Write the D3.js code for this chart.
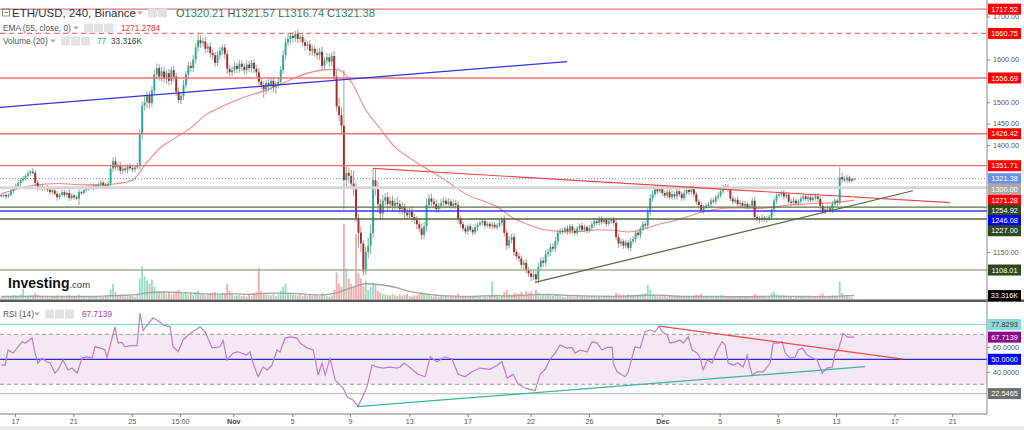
<!DOCTYPE html>
<html><head><meta charset="utf-8">
<script src="https://cdn.jsdelivr.net/npm/d3@7"></script>
<style>body{margin:0;background:#fff;}svg{display:block;font-family:Arial,"Liberation Sans",sans-serif;}</style>
</head><body><svg id="c" width="1024" height="430"></svg>
<script>
// ---- DATA (4h candles, ETH/USD Binance) ----
const firstOpen = 1283;
const closes = [1281,1283,1280,1284,1292,1298,1305,1311,1318,1322,
1328,1334,1338,1335,1312,1300,1303,1298,1302,1296,
1290,1294,1286,1278,1284,1290,1283,1288,1276,1282,
1278,1275,1290,1288,1295,1298,1302,1300,1305,1303,
1308,1312,1306,1304,1310,1345,1362,1348,1352,1340,
1345,1342,1350,1346,1343,1348,1352,1425,1492,1500,
1515,1498,1528,1565,1580,1560,1572,1555,1568,1550,
1575,1560,1525,1505,1515,1540,1565,1585,1580,1600,
1628,1645,1638,1642,1625,1630,1615,1610,1592,1610,
1620,1628,1612,1578,1570,1575,1585,1578,1590,1583,
1575,1588,1580,1592,1578,1570,1548,1540,1530,1545,
1538,1550,1535,1542,1548,1575,1610,1640,1648,1655,
1650,1660,1648,1652,1640,1632,1635,1620,1625,1615,
1610,1618,1585,1598,1605,1595,1608,1560,1490,1470,
1445,1318,1335,1328,1310,1300,1230,1195,1170,1105,
1150,1165,1194,1318,1300,1262,1240,1270,1278,1262,
1270,1258,1265,1262,1250,1256,1242,1236,1245,1232,
1225,1215,1205,1190,1210,1260,1275,1268,1262,1250,
1258,1265,1270,1262,1268,1258,1264,1260,1228,1215,
1205,1198,1210,1202,1196,1208,1214,1218,1222,1212,
1216,1210,1214,1208,1212,1218,1226,1195,1165,1178,
1185,1150,1140,1135,1120,1125,1108,1100,1092,1098,
1086,1115,1130,1125,1145,1150,1162,1158,1175,1195,
1200,1198,1205,1198,1210,1200,1195,1205,1212,1202,
1208,1200,1206,1215,1222,1218,1228,1220,1225,1216,
1222,1226,1218,1185,1170,1175,1165,1172,1160,1175,
1180,1195,1190,1205,1215,1212,1245,1275,1285,1298,
1292,1300,1288,1282,1290,1278,1285,1280,1292,1285,
1276,1288,1295,1290,1298,1285,1268,1260,1248,1255,
1258,1262,1270,1268,1278,1282,1292,1300,1304,1296,
1275,1268,1272,1262,1265,1258,1262,1255,1258,1270,
1232,1228,1225,1230,1226,1228,1232,1250,1270,1282,
1285,1288,1280,1284,1268,1265,1270,1264,1268,1275,
1280,1274,1278,1272,1276,1280,1274,1258,1245,1250,
1252,1248,1262,1270,1266,1325,1320,1318,1324,1316,
1320.21,1321.38];
// wick extents above / below the candle body (USD)
const upperWick = [3,4,5,3,6,4,5,7,4,6, 5,6,4,8,6,5,4,6,3,5, 6,4,5,7,4,6,5,4,8,5, 4,5,6,4,5,7,4,6,5,4,
5,6,4,5,6,8,10,9,7,8, 6,7,5,8,6,5,7,12,10,14, 10,12,9,11,11,9,10,12,8,10, 9,11,8,10,9,12,8,10,9,11,
10,19,12,9,11,8,10,9,8,10, 9,7,8,10,9,8,10,7,9,8, 8,10,9,7,8,9,10,8,9,7, 9,8,10,7,8,9,12,10,14,8,
9,7,10,8,11,9,8,10,9,8, 10,9,12,8,10,9,8,12,15,20, 18,130,15,12,14,30,12,10,15,8, 12,18,20,28,25,15,12,14,10,12,
10,12,9,14,10,12,8,10,9,11, 8,10,9,12,10,15,10,12,9,11, 8,10,9,7,8,6,9,8,10,7, 6,8,5,7,6,8,5,6,7,5,
6,5,7,6,5,8,6,10,8,9, 7,8,6,9,7,6,8,7,6,9, 8,9,7,8,10,7,8,9,10,8, 6,7,5,8,6,5,7,6,5,7,
6,5,7,6,8,5,6,7,5,6, 7,5,6,8,7,6,5,7,6,8, 7,6,8,5,7,6,8,10,9,7, 8,6,7,5,6,7,8,6,5,7,
6,7,5,8,6,7,5,6,8,5, 6,5,7,6,5,8,6,7,5,6, 7,6,5,8,6,5,7,6,5,6, 8,5,6,7,5,6,5,7,6,5,
6,5,7,6,5,6,8,5,6,7, 5,6,7,5,6,5,7,6,8,5, 6,5,7,6,5,23,10,8,6,5, 3,0.19];
const lowerWick = [4,3,6,4,3,5,4,3,6,4, 5,4,6,3,8,6,4,5,4,6, 5,6,4,8,5,4,6,5,7,5, 6,4,15,5,4,6,5,4,6,5,
4,6,5,4,5,6,8,7,9,8, 7,6,8,5,7,6,5,8,10,12, 14,12,10,9,12,10,11,9,12,10, 9,12,10,7,9,10,8,11,9,10,
9,10,11,8,10,9,11,10,9,8, 10,9,11,12,10,9,8,10,9,11, 10,8,9,11,10,12,9,10,20,12, 14,10,12,15,10,9,8,10,9,12,
10,9,11,8,10,12,9,10,11,9, 10,12,10,9,8,11,10,9,12,15, 20,68,15,18,12,20,10,35,20,10, 8,15,20,12,18,20,15,10,12,14,
10,12,9,11,10,12,14,10,9,12, 10,12,9,10,10,12,9,10,11,9, 8,7,9,10,6,8,7,9,10,8, 7,6,8,5,7,6,8,5,6,7,
5,6,7,5,6,5,7,8,10,6, 8,9,7,8,9,10,8,9,10,8, 4,9,8,10,7,8,9,7,8,10, 6,7,5,8,6,7,5,6,8,5,
6,7,5,6,8,5,7,6,5,7, 5,7,6,8,10,7,8,6,5,8, 6,7,5,8,6,7,9,10,8,6, 7,5,8,6,7,5,6,7,8,6,
7,6,5,7,6,8,7,9,6,8, 5,6,8,5,7,6,5,7,6,5, 6,7,5,6,8,5,7,6,5,7, 5,6,7,5,6,7,5,6,8,7,
5,6,7,5,6,8,5,6,7,5, 6,5,7,6,5,6,7,8,6,7, 5,6,7,5,8,6,7,5,6,5, 5,3.47];
// volume, thousands
const volumes = [15,22,10,30,25,40,35,28,45,100, 30,25,20,35,60,40,18,22,15,30, 12,25,20,35,15,20,12,28,40,18,
22,30,45,15,20,12,25,18,30,20, 15,25,18,22,20,90,150,70,40,30, 35,25,40,30,28,20,45,200,320,220,
180,150,190,120,80,70,60,75,50,65, 45,55,80,90,60,50,70,45,60,40, 65,80,45,50,35,40,55,60,70,45,
40,60,50,150,80,45,30,35,40,28, 35,25,40,30,45,70,310,80,60,45, 40,35,50,30,45,80,120,150,60,50,
45,40,35,50,30,40,35,45,30,40, 35,30,60,40,30,25,35,90,260,150, 120,740,300,200,150,120,640,250,200,130,
180,90,120,160,140,80,60,50,45,40, 35,50,40,30,45,35,40,55,30,25, 40,35,45,70,60,50,40,30,25,35,
20,25,18,22,15,20,25,30,55,30, 25,20,15,28,22,18,25,20,15,22, 18,30,173,40,25,20,30,70,90,45,
40,60,55,50,70,45,80,60,75,50, 90,65,50,40,45,55,35,30,40,45, 30,25,20,35,28,22,18,30,25,20,
22,18,25,30,35,20,28,15,25,20, 18,22,20,60,50,35,40,30,45,35, 30,40,35,45,50,55,140,90,50,40,
35,30,25,40,20,30,25,22,35,20, 18,25,30,22,28,20,40,35,50,25, 20,18,25,22,30,25,35,40,30,25,
30,22,18,25,20,15,22,25,18,30, 50,35,25,20,22,18,25,60,70,40, 25,20,18,22,30,20,15,18,22,25,
20,15,18,22,15,20,18,40,55,30, 25,20,35,30,25,170,60,35,25,20, 15,0.077];
// EMA(55) and Volume MA(20), read every 6 candles (+ last)
const emaAt = [0,6,12,18,24,30,36,42,48,54,60,66,72,78,84,90,96,102,108,114,120,126,132,138,144,150,156,162,168,174,
180,186,192,198,204,210,216,222,228,234,240,246,252,258,264,270,276,282,288,294,300,306,312,318,324,330,336,342,348,351];
const emaVals = [1287,1296,1305,1309,1310,1308,1307,1307,1310,1318,1360,1396,1418,1440,1470,1488,1503,1516,1526,1540,
1555,1568,1575,1577,1548,1482,1438,1395,1370,1348,1328,1305,1283,1270,1256,1232,1216,1204,1199,1197,
1199,1202,1201,1197,1203,1214,1222,1232,1243,1250,1253,1253,1252,1255,1260,1262,1264,1265,1269,1271.28];
const volMaVals = [25,25,27,26,24,24,25,28,35,40,60,68,65,58,50,48,50,45,55,58,55,45,40,60,110,150,140,115,75,50,
35,28,25,30,32,30,38,45,42,35,30,28,26,30,35,38,30,25,24,25,22,22,24,28,26,24,23,25,32,33.316];
// RSI(14) (candle index, value)
const rsiAt = [0,1.6,2.8,4.9,6.5,8.6,9.8,12.7,13.9,15.1,16.8,18.8,20.1,22.1,23.4,25.4,27.5,29.1,31.2,33.3,
35.3,37.4,38.6,40.7,42.7,43.5,46.8,48.1,49.7,50.9,53,55.9,57.1,58.4,60,62.5,65.3,66.6,69.5,70.7,
72.8,74.8,76.9,78.9,81.8,83.9,86.8,90,91.3,92.9,95.4,97.4,101,102.4,103.6,105.7,107.7,109.4,111.4,113.5,
114.7,116.8,118.8,121.7,123,125.9,128.3,129.1,130.4,132,133.3,135.3,137.4,140.7,142.3,144.8,146.8,148.5,150.5,152.6,
154.7,157.1,160,162.9,164.1,165.8,169,171.5,174.4,176.5,179.3,182.6,185.5,188,190.9,193.7,197,201,204,206,
208.2,210.6,212.7,215.6,217.6,219.7,221.7,223.8,225.8,227.9,229.9,232.8,234.9,236.1,238.2,241.1,243.1,245.2,247.2,249.3,
251.4,251.8,253.4,255.5,256.7,258,259.6,260.8,262.9,264.9,267,269,270.7,271.9,274,275.2,277.3,279.3,280.6,282.7,
284.3,286.3,287.6,288.8,290.5,292.5,294.6,296.6,297.9,299.1,301.2,303.2,305.3,306.9,309,311,313.5,316.4,317.6,319.7,
321.3,322.6,324.6,326.7,327.9,329.6,331.6,333.7,335.7,337.8,339.8,341.9,343.1,344.4,346.4,348.1,350.2,351];
const rsiVals = [45.4,45.4,57.4,55,59,64,62.8,67,55,47,51,47.8,47,39,41.5,49.4,41.5,43,39,51,
52,51,60,59,57.4,51,76,63,63.5,60,61,61,87,73,77.4,83,80,77.4,76,60,
56,65.4,69.4,72,76,72,59,60,65,49.4,55,56,53.4,56,47,36,44,41.5,45.4,57.4,
55.8,67,68,67,63,59,57.4,51,37.4,47,37.4,51,33.4,27,20,17.5,12.6,19,28,45.4,
43.8,43,43.8,43,43.8,47,42,38,36,52,48,52,50,38,36,40,43,42,45,48,
35,38,30,27,26,25,38,42,50,55,61.4,59,59.5,55,57.4,56,64,63,57.4,59.5,
59.5,47,40,37.4,36,40,52,60,59,72,73.4,72,76.6,72,69.4,63,64,65.4,63,68,
57.4,55,51,41.5,49.4,47,57.4,64,61.4,47,45.4,47,43.8,53.4,37.4,40,40,47,63,63,
64,55,51,51.8,57.4,59,53.4,51,49.4,39,43,43.8,55,57.4,71,67.7,67.7,67.7139];
// horizontal levels & trend lines
const priceLevels = [1717.52,1660.75,1556.69,1426.42,1351.71,1321.38,1300.00,1254.92,1246.08,1227.00,1108.01];
const priceTicks = [1150,1400,1450,1500,1600,1700];
const trendBlue = [[-0.5,1488],[232.8,1595]];
const trendRed = [[153,1345.6],[390.4,1265.3]];
const trendGreen = [[219.6,1079.3],[375.1,1293.3]];
const rsiLevels = [77.8293,22.5465];
const rsiTrendRed = [[270.8,76.6],[371,50.2]];
const rsiTrendTeal = [[146.3,12.1],[355.4,44.1]];
const rsiTicks = [40,60];
const dateTickAt = [5.67,29.66,53.69,73.56,95.49,119.76,143.5,167.9,191.9,217.8,241.8,272.0,295.6,319.5,343.5,367.5,391.3];
const dateTickLabels = ["17","21","25","15:00","Nov","5","9","13","17","22","26","Dec","5","9","13","17","21"];

// ---- STYLES ----
const levelStyle = [
 {c:"#f37272",w:1.3},{c:"#f37272",w:1.3,d:"5,4"},{c:"#f37272",w:1.3},{c:"#f37272",w:1.3},{c:"#f37272",w:1.3},
 {c:"#5b7ee6",w:1,d:"1,2"},{c:"#d6d6d6",w:3},{c:"#5e6e50",w:1.2},{c:"#3a3ae6",w:1.5},{c:"#52673d",w:1.5},{c:"#9fb08f",w:1.5}];
const levelLabelBg = ["#ff0000","#ff0000","#ff0000","#ff0000","#ff0000","#6a8fe8","#a8a8a8","#2d4a1e","#0000ff","#2d4a1e","#2d4a1e"];

const plotR = 987;
const svg = d3.select("#c");
const x = d3.scaleLinear().domain([-0.5,405.6]).range([0,plotR]);
const y = d3.scaleLinear().domain([1040.3,1738.9]).range([299,0]);
const yv = d3.scaleLinear().domain([0,33.316]).range([299,295.6]);
const yr = d3.scaleLinear().domain([30,70]).range([384.3,334.3]);

const defs = svg.append("defs");
defs.append("clipPath").attr("id","cm").append("rect").attr("x",0).attr("y",0).attr("width",plotR).attr("height",299);
defs.append("clipPath").attr("id","cr").append("rect").attr("x",0).attr("y",302).attr("width",plotR).attr("height",112);

const idx = d3.range(closes.length);
const opens = idx.map(i => i ? closes[i-1] : firstOpen);
const highs = idx.map(i => Math.max(opens[i],closes[i]) + upperWick[i]);
const lows = idx.map(i => Math.min(opens[i],closes[i]) - lowerWick[i]);
const up = i => closes[i] >= opens[i];

const gm = svg.append("g").attr("clip-path","url(#cm)");
// volume
gm.append("g").selectAll("rect").data(idx).join("rect")
  .attr("x",i=>x(i)-0.9).attr("width",1.8)
  .attr("y",i=>yv(volumes[i])).attr("height",i=>yv(0)-yv(volumes[i]))
  .attr("fill",i=>up(i)?"#93dfc2":"#f6a9a9");
const pairLine = (sx,sy)=>d3.line().x(d=>sx(d[0])).y(d=>sy(d[1]));
gm.append("path").datum(emaAt.map((a,k)=>[a,volMaVals[k]]))
  .attr("d",pairLine(x,yv).curve(d3.curveMonotoneX)).attr("fill","none").attr("stroke","#a3a3a3").attr("stroke-width",1.4);
// EMA
gm.append("path").datum(emaAt.map((a,k)=>[a,emaVals[k]]))
  .attr("d",pairLine(x,y).curve(d3.curveMonotoneX)).attr("fill","none").attr("stroke","#f58585").attr("stroke-width",1.1);
// candles
const gc = gm.append("g");
gc.selectAll("line").data(idx).join("line")
  .attr("x1",i=>x(i)).attr("x2",i=>x(i)).attr("y1",i=>y(highs[i])).attr("y2",i=>y(lows[i]))
  .attr("stroke","#8e9a8e").attr("stroke-width",0.9);
gc.selectAll("rect").data(idx).join("rect")
  .attr("x",i=>x(i)-0.95).attr("width",1.9)
  .attr("y",i=>y(Math.max(opens[i],closes[i])))
  .attr("height",i=>Math.max(1,Math.abs(y(opens[i])-y(closes[i]))))
  .attr("fill",i=>up(i)?"#1fb098":"#b3231f");
// levels
priceLevels.forEach((v,k)=>{
  const s = levelStyle[k];
  gm.append("line").attr("x1",0).attr("x2",plotR).attr("y1",y(v)).attr("y2",y(v))
    .attr("stroke",s.c).attr("stroke-width",s.w).attr("stroke-dasharray",s.d||null);
});
const seg = (g,pts,sy,c,w)=>g.append("line").attr("x1",x(pts[0][0])).attr("y1",sy(pts[0][1]))
  .attr("x2",x(pts[1][0])).attr("y2",sy(pts[1][1])).attr("stroke",c).attr("stroke-width",w);
seg(gm,trendBlue,y,"#3434e0",1.2);
seg(gm,trendRed,y,"#f04848",1.2);
seg(gm,trendGreen,y,"#4f6a3c",1.2);

// RSI pane
const gr = svg.append("g").attr("clip-path","url(#cr)");
gr.append("rect").attr("x",0).attr("width",plotR).attr("y",yr(70)).attr("height",yr(30)-yr(70)).attr("fill","#f3e8f3");
[70,30].forEach(v=>gr.append("line").attr("x1",0).attr("x2",plotR).attr("y1",yr(v)).attr("y2",yr(v))
  .attr("stroke","#9a9a9a").attr("stroke-width",1).attr("stroke-dasharray","4,3"));
gr.append("line").attr("x1",0).attr("x2",plotR).attr("y1",yr(50)).attr("y2",yr(50)).attr("stroke","#2b2bd8").attr("stroke-width",1.2);
gr.append("line").attr("x1",0).attr("x2",plotR).attr("y1",yr(rsiLevels[0])).attr("y2",yr(rsiLevels[0])).attr("stroke","#86d3c8").attr("stroke-width",1.2);
gr.append("line").attr("x1",0).attr("x2",plotR).attr("y1",yr(rsiLevels[1])).attr("y2",yr(rsiLevels[1])).attr("stroke","#c4c4c4").attr("stroke-width",1.4);
gr.append("path").datum(rsiAt.map((a,k)=>[a,rsiVals[k]])).attr("d",pairLine(x,yr))
  .attr("fill","none").attr("stroke","#c47acb").attr("stroke-width",1.2);
seg(gr,rsiTrendRed,yr,"#f04a4a",1.2);
seg(gr,rsiTrendTeal,yr,"#3fb596",1.2);

// separator & frame
svg.append("rect").attr("x",0).attr("y",299.5).attr("width",1024).attr("height",2.5).attr("fill","#5b5b5b");
svg.append("rect").attr("x",0).attr("y",426).attr("width",1024).attr("height",4).attr("fill","#e9e9e9");

// axes
const ax = svg.append("g").attr("transform",`translate(${plotR},0)`)
  .call(d3.axisRight(y).tickValues(priceTicks).tickSize(3).tickPadding(3).tickFormat(d3.format(".2f")));
ax.select(".domain").remove();
const axr = svg.append("g").attr("transform",`translate(${plotR},0)`)
  .call(d3.axisRight(yr).tickValues(rsiTicks).tickSize(3).tickPadding(3).tickFormat(d3.format(".4f")));
axr.select(".domain").remove();
const axb = svg.append("g").attr("transform","translate(0,414)")
  .call(d3.axisBottom(x).tickValues(dateTickAt).tickSize(3).tickPadding(2).tickFormat((d,i)=>dateTickLabels[i]));
axb.select(".domain").attr("d",`M0,0H${plotR}`).attr("stroke","#7a7a7a");
[ax,axr,axb].forEach(a=>{a.selectAll("text").attr("font-size",7.2).attr("fill","#555").attr("font-family","Arial, 'Liberation Sans', sans-serif");
  a.selectAll(".tick line").attr("stroke","#888");});
axb.selectAll("text").filter((d,i)=>dateTickLabels[i]==="Nov"||dateTickLabels[i]==="Dec").attr("font-weight","bold").attr("fill","#444");
svg.append("line").attr("x1",plotR).attr("x2",plotR).attr("y1",0).attr("y2",414).attr("stroke","#8a8a8a");

// right labels
function placeLabels(items){
  items.sort((a,b)=>a.y-b.y);
  for(let k=1;k<items.length;k++) if(items[k].y-items[k-1].y<10.2) items[k].y=items[k-1].y+10.2;
  items.forEach(it=>{
    svg.append("rect").attr("x",988).attr("y",it.y-5.5).attr("width",33).attr("height",11).attr("fill",it.bg);
    svg.append("text").attr("x",1004.5).attr("y",it.y).attr("dy","0.36em").attr("text-anchor","middle")
      .attr("font-size",7.4).attr("fill",it.fg||"#fff").text(it.t);
  });
}
const mainLabels = priceLevels.map((v,k)=>({y:y(v),t:v.toFixed(2),bg:levelLabelBg[k]}));
mainLabels.push({y:y(emaVals[emaVals.length-1]),t:emaVals[emaVals.length-1].toFixed(2),bg:"#ff0000"});
mainLabels.push({y:yv(volMaVals[volMaVals.length-1]),t:"33.316K",bg:"#000"});
placeLabels(mainLabels);
placeLabels([
  {y:yr(rsiLevels[0]),t:rsiLevels[0].toFixed(4),bg:"#8bd6df",fg:"#333"},
  {y:yr(rsiVals[rsiVals.length-1]),t:rsiVals[rsiVals.length-1].toFixed(4),bg:"#8b088b"},
  {y:yr(50),t:"50.0000",bg:"#0000ff"},
  {y:yr(rsiLevels[1]),t:rsiLevels[1].toFixed(4),bg:"#6e6e6e"}]);

// legends
function icons(x0,yc,n){for(let k=0;k<n;k++) svg.append("rect").attr("x",x0+k*10).attr("y",yc-4.5).attr("width",9).attr("height",9).attr("rx",1).attr("fill","#e2e2e2");}
function caret(x0,yc){svg.append("path").attr("d",`M${x0},${yc-1.5}l3,3l3,-3z`).attr("fill","#aaa");}
svg.append("rect").attr("x",2.5).attr("y",9).attr("width",7).attr("height",7).attr("fill","none").attr("stroke","#777").attr("stroke-width",0.8);
svg.append("line").attr("x1",4).attr("x2",8).attr("y1",12.5).attr("y2",12.5).attr("stroke","#777").attr("stroke-width",0.8);
svg.append("text").attr("x",12).attr("y",17).attr("font-size",11.5).attr("fill","#333").text("ETH/USD, 240, Binance");
caret(137,13); icons(148,13,2);
const ohlc = svg.append("text").attr("x",176).attr("y",17).attr("font-size",11);
[["O","1320.21"],["H","1321.57"],["L","1316.74"],["C","1321.38"]].forEach((p,k)=>{
  ohlc.append("tspan").attr("fill","#4a5a4a").text((k?" ":"")+p[0]);
  ohlc.append("tspan").attr("fill","#2f8a5c").text(p[1]);
});
svg.append("text").attr("x",3).attr("y",31).attr("font-size",8.3).attr("fill","#555").text("EMA (55, close, 0)");
caret(73,28); icons(84,28,3);
svg.append("text").attr("x",121).attr("y",31).attr("font-size",8.3).attr("fill","#f03030").text("1271.2784");
svg.append("text").attr("x",3).attr("y",44).attr("font-size",8.3).attr("fill","#555").text("Volume (20)");
caret(50,41); icons(61,41,3);
svg.append("text").attr("x",97).attr("y",44).attr("font-size",8.3).attr("fill","#2fb37a").text("77");
svg.append("text").attr("x",111).attr("y",44).attr("font-size",8.3).attr("fill","#333").text("33.316K");
svg.append("text").attr("x",3).attr("y",317).attr("font-size",8.3).attr("fill","#555").text("RSI (14)");
caret(34,314); icons(45,314,3);
svg.append("text").attr("x",82).attr("y",317).attr("font-size",8.3).attr("fill","#a03cb0").text("67.7139");
// watermark
const wm = svg.append("text").attr("x",8).attr("y",288).attr("fill","#111");
wm.append("tspan").attr("font-size",14).attr("font-weight","bold").text("Investing");
wm.append("tspan").attr("font-size",9.5).attr("fill","#333").text(".com");
</script></body></html>
